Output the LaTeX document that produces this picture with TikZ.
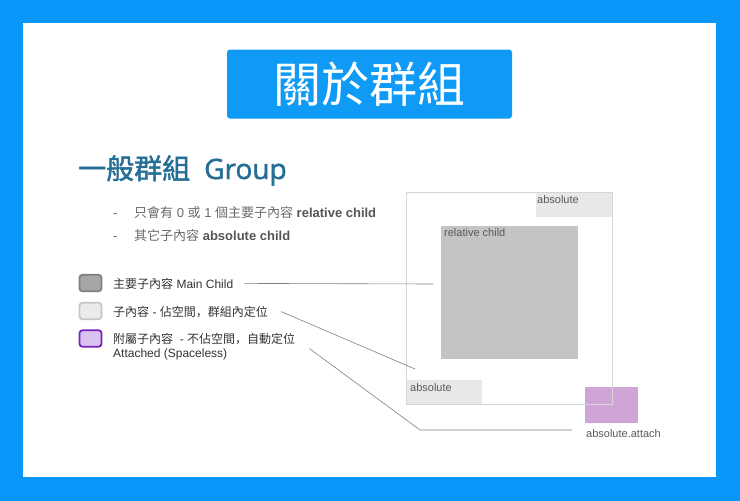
\documentclass[tikz,border=0pt]{standalone}
\usepackage{fontspec}
\setmainfont{Liberation Sans}
\newfontfamily\cjk{Noto Sans CJK TC}
\newfontfamily\cjkpunct{Noto Sans CJK SC}
\newfontfamily\headcjk[FakeBold=1.6]{Noto Sans CJK TC}
\newfontfamily\headfont[FakeBold=1.6]{Open Sans}
\usetikzlibrary{positioning}
\definecolor{bgblue}{HTML}{0896F9}
\definecolor{titleblue}{HTML}{0F9AF6}
\definecolor{headblue}{HTML}{256E96}
\definecolor{bulletgray}{HTML}{6A6A6A}
\definecolor{boldgray}{HTML}{555555}
\definecolor{legendgray}{HTML}{333333}
\definecolor{labelgray}{HTML}{5A5A5A}
\definecolor{leadergray}{HTML}{808080}
\definecolor{framegray}{HTML}{D6D6D6}
\definecolor{relgray}{HTML}{C4C4C4}
\definecolor{absgray}{HTML}{E8E8E8}
\definecolor{attachpurple}{HTML}{CFA4D6}
\definecolor{mainfill}{HTML}{A6A6A6}
\definecolor{mainline}{HTML}{7F7F7F}
\definecolor{childfill}{HTML}{EBEBEB}
\definecolor{childline}{HTML}{C6C6C6}
\definecolor{spacefill}{HTML}{D9C3F0}
\definecolor{spaceline}{HTML}{7B22B8}
\tikzset{
    boxlabel/.style={anchor=base west, inner sep=0pt, font=\fontsize{11}{13}\selectfont, text=labelgray},
    legendtext/.style={anchor=base west, inner sep=0pt, font=\fontsize{12}{14}\selectfont, text=legendgray},
    bullettext/.style={anchor=base west, inner sep=0pt, font=\fontsize{13}{15}\selectfont, text=bulletgray},
    leader/.style={draw=leadergray, line width=0.6pt},
    swatch/.style={rounded corners=3pt, line width=1.8pt, minimum width=22pt, minimum height=16.5pt, inner sep=0pt},
    area/.style={anchor=north west, inner sep=0pt, draw=none},
}

\begin{document}
\begin{tikzpicture}[x=1pt, y=-1pt]
    % Background and white panel
    \useasboundingbox (0,0) rectangle (740,501);
    \fill[bgblue] (0,0) rectangle (740,501);
    \fill[white] (23,23) rectangle (716,477);

    % Title box
    \node[fill=titleblue, rounded corners=3pt, minimum width=285pt, minimum height=69pt,
          text=white, font=\cjk\fontsize{48}{50}\selectfont] (title) at (369.5,84) {關於群組};

    % Heading
    \node[anchor=base west, inner sep=0pt, text=headblue] (heading) at (78,179)
        {{\headcjk\fontsize{28}{30}\selectfont 一般群組}\hspace{14pt}{\headfont\fontsize{28}{30}\selectfont Group}};

    % Bullet points
    \node[bullettext] (dash1) at (113,217) {-};
    \node[bullettext] (bullet1) at (134,217)
        {{\cjk 只會有} 0 {\cjk 或} 1 {\cjk 個主要子內容} {\color{boldgray}\bfseries relative child}};
    \node[bullettext] (dash2) at (113,240) {-};
    \node[bullettext] (bullet2) at (134,240)
        {{\cjk 其它子內容} {\color{boldgray}\bfseries absolute child}};

    % Legend swatches
    \foreach \name/\fillc/\linec/\y in {swmain/mainfill/mainline/283,
                                         swchild/childfill/childline/311,
                                         swspace/spacefill/spaceline/338.5}
    \node[swatch, fill=\fillc, draw=\linec] (\name) at (90.5,\y) {};

    % Legend texts
    \node[legendtext] (lgmain) at (113,288) {{\cjk 主要子內容} Main Child};
    \node[legendtext] (lgchild) at (113,316)
        {{\cjk 子內容} - {\cjk 佔空間}{\cjkpunct ，}{\cjk 群組內定位}};
    \node[legendtext] (lgattach) at (113,343)
        {{\cjk 附屬子內容}\ \ - {\cjk 不佔空間}{\cjkpunct ，}{\cjk 自動定位}};
    \node[legendtext] (lgspace) at (113,357) {Attached (Spaceless)};

    % Group with its children
    \node[area, fill=absgray, minimum width=76pt, minimum height=25pt] (abstop) at (536,192) {};
    \node[area, fill=absgray, minimum width=76pt, minimum height=24pt] (absbottom) at (406,380) {};
    \node[area, fill=relgray, minimum width=137pt, minimum height=133pt] (relchild) at (441,226) {};
    \node[area, fill=attachpurple, minimum width=53pt, minimum height=36pt] (attach) at (585,387) {};
    \node[area, draw=framegray, line width=0.7pt, minimum width=206pt, minimum height=212pt] (group) at (406,192) {};

    \node[boxlabel] (abstoplabel) at ([xshift=1pt,yshift=-11pt]abstop.north west) {absolute};
    \node[boxlabel] (absbottomlabel) at ([xshift=4pt,yshift=-11pt]absbottom.north west) {absolute};
    \node[boxlabel] (rellabel) at ([xshift=3pt,yshift=-10pt]relchild.north west) {relative child};
    \node[boxlabel] (attachlabel) at ([xshift=1pt,yshift=-14pt]attach.south west) {absolute.attach};

    % Leader lines
    \coordinate (mainend) at (433,284);
    \coordinate (childend) at (415,369);
    \coordinate (attachbend) at (420,430);
    \coordinate (attachend) at (572,430);
    \draw[leader] ([xshift=11pt]lgmain.east) -- (mainend);
    \draw[leader] ([xshift=13pt]lgchild.east) -- (childend);
    \draw[leader] ([xshift=14pt,yshift=-10pt]lgattach.east) -- (attachbend) -- (attachend);
\end{tikzpicture}
\end{document}
